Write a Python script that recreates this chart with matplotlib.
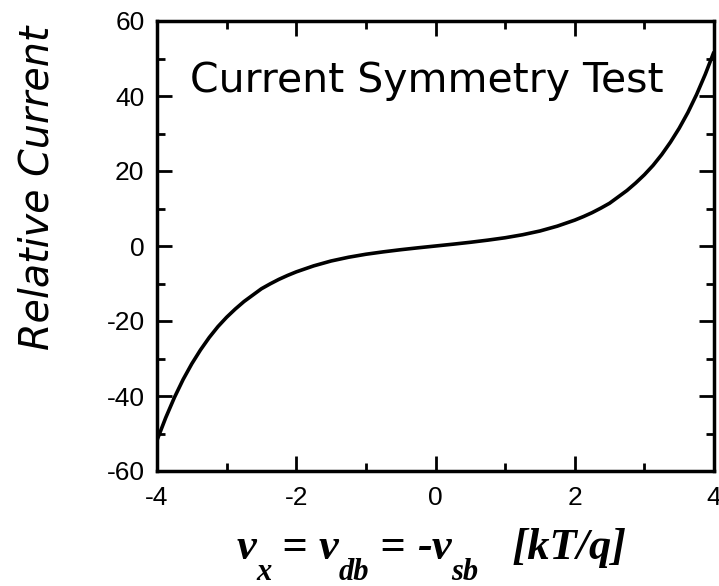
import matplotlib
matplotlib.use("Agg")
import matplotlib.pyplot as plt
from matplotlib.ticker import MultipleLocator

# Data
x_vals = [-4.0, -3.875, -3.75, -3.625, -3.5, -3.375, -3.25, -3.125, -3.0, -2.875,
          -2.75, -2.625, -2.5, -2.375, -2.25, -2.125, -2.0, -1.75, -1.5,
          -1.25, -1.0, -0.75, -0.5, -0.25, 0.0, 0.25, 0.5, 0.75, 1.0, 1.25, 1.5,
          1.75, 2.0, 2.125, 2.25, 2.375, 2.5, 2.625, 2.75, 2.875, 3.0, 3.125,
          3.25, 3.375, 3.5, 3.625, 3.75, 3.875, 4.0]
current = [-51.8, -45.8, -40.4, -35.6, -31.4, -27.7, -24.4, -21.5, -19.0, -16.8,
           -14.8, -13.1, -11.4, -10.1, -8.9, -7.85, -6.9, -5.3, -4.0,
           -3.0, -2.2, -1.56, -0.99, -0.48, 0.0, 0.48, 0.99, 1.56, 2.2, 3.0, 4.0,
           5.3, 6.9, 7.85, 8.9, 10.1, 11.4, 13.1, 14.8, 16.8, 19.0, 21.5,
           24.4, 27.7, 31.4, 35.6, 40.4, 45.8, 51.8]
x_ticks = [-4, -2, 0, 2, 4]
y_ticks = [-60, -40, -20, 0, 20, 40, 60]
title_text = "Current Symmetry Test"
ylabel_text = "Relative Current"
# x label pieces: (text, is_subscript)
xlabel_parts = [("v", False), ("x", True), (" = ", False), ("v", False), ("db", True),
                (" = ", False), ("-v", False), ("sb", True), ("   [kT/q]", False)]

plt.rcParams['font.family'] = ['Liberation Sans', 'DejaVu Sans']
plt.rcParams['axes.unicode_minus'] = False

W, H = 719, 586
fig = plt.figure(figsize=(W/100, H/100), dpi=100)
ax = fig.add_axes([157/W, 1 - 471/H, (714-157)/W, (471-21)/H])

ax.plot(x_vals, current, color='black', lw=2.6, solid_capstyle='butt')
ax.set_xlim(-4, 4)
ax.set_ylim(-60, 60)
ax.set_xticks(x_ticks)
ax.set_yticks(y_ticks)
ax.xaxis.set_minor_locator(MultipleLocator(1))
ax.yaxis.set_minor_locator(MultipleLocator(10))
ax.tick_params(which='both', direction='in', top=True, right=True, width=2,
               labelsize=19, labeltop=False, labelright=False)
ax.tick_params(which='major', length=11)
ax.tick_params(which='minor', length=6)
ax.tick_params(axis='x', pad=11)
ax.tick_params(axis='y', pad=9)
for s in ax.spines.values():
    s.set_linewidth(2.5)

# title inside the axes
fig.text(427/W, 1 - 92/H, title_text, ha='center', va='baseline',
         fontsize=29.5, family=['DejaVu Sans'])

# y label
fig.text(37/W, 1 - 188/H, ylabel_text, ha='center', va='center', rotation=90,
         fontsize=28.5, family=['DejaVu Sans'], style='italic')

# x label composed of pieces
renderer = fig.canvas.get_renderer()
main_fs, sub_fs = 32, 22
serif = ['Liberation Serif', 'DejaVu Serif']
texts = []
for t, sub in xlabel_parts:
    txt = fig.text(0, 0, t, fontsize=sub_fs if sub else main_fs, family=serif,
                   weight='bold', style='italic', ha='left', va='baseline')
    texts.append((txt, sub))
widths = [txt.get_window_extent(renderer).width for txt, _ in texts]
total = sum(widths)
x0 = 431 - total / 2
base_main = 559
base_sub = 580
x = x0
for (txt, sub), w in zip(texts, widths):
    txt.set_position((x / W, 1 - (base_sub if sub else base_main) / H))
    x += w

fig.savefig("out.png", dpi=100)
